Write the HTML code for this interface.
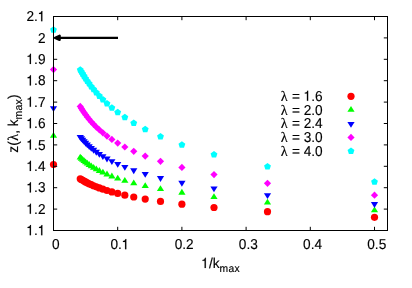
<!DOCTYPE html>
<html><head><meta charset="utf-8"><style>
html,body{margin:0;padding:0;background:#fff;}
svg{display:block;will-change:transform}
text{font-family:"Liberation Sans",sans-serif;font-size:14.3px;fill:#000;text-rendering:geometricPrecision;stroke:#000;stroke-width:0.15px}
.h{fill:none;stroke:none}
text.sy{font-family:"Liberation Serif",serif}
</style></head><body>
<svg width="412" height="288" viewBox="0 0 412 288">
<rect width="412" height="288" fill="#fff"/>
<g><circle cx="53.50" cy="164.59" r="3.6" fill="#ff0000"/><circle cx="374.50" cy="217.36" r="3.6" fill="#ff0000"/><circle cx="267.50" cy="211.66" r="3.6" fill="#ff0000"/><circle cx="214.00" cy="207.49" r="3.6" fill="#ff0000"/><circle cx="181.90" cy="204.19" r="3.6" fill="#ff0000"/><circle cx="160.50" cy="201.43" r="3.6" fill="#ff0000"/><circle cx="145.21" cy="199.07" r="3.6" fill="#ff0000"/><circle cx="133.75" cy="196.99" r="3.6" fill="#ff0000"/><circle cx="124.83" cy="195.13" r="3.6" fill="#ff0000"/><circle cx="117.70" cy="193.45" r="3.6" fill="#ff0000"/><circle cx="111.86" cy="191.91" r="3.6" fill="#ff0000"/><circle cx="107.00" cy="190.50" r="3.6" fill="#ff0000"/><circle cx="102.88" cy="189.18" r="3.6" fill="#ff0000"/><circle cx="99.36" cy="187.96" r="3.6" fill="#ff0000"/><circle cx="96.30" cy="186.81" r="3.6" fill="#ff0000"/><circle cx="93.62" cy="185.73" r="3.6" fill="#ff0000"/><circle cx="91.26" cy="184.70" r="3.6" fill="#ff0000"/><circle cx="89.17" cy="183.73" r="3.6" fill="#ff0000"/><circle cx="87.29" cy="182.80" r="3.6" fill="#ff0000"/><circle cx="85.60" cy="181.92" r="3.6" fill="#ff0000"/><circle cx="84.07" cy="181.08" r="3.6" fill="#ff0000"/><circle cx="82.68" cy="180.27" r="3.6" fill="#ff0000"/><circle cx="81.41" cy="179.49" r="3.6" fill="#ff0000"/><circle cx="80.25" cy="178.74" r="3.6" fill="#ff0000"/></g>
<g><polygon points="53.50,131.88 49.90,137.71 57.10,137.71" fill="#00ff00"/><polygon points="374.50,206.41 370.90,212.25 378.10,212.25" fill="#00ff00"/><polygon points="267.50,198.70 263.90,204.53 271.10,204.53" fill="#00ff00"/><polygon points="214.00,193.20 210.40,199.03 217.60,199.03" fill="#00ff00"/><polygon points="181.90,188.87 178.30,194.70 185.50,194.70" fill="#00ff00"/><polygon points="160.50,185.26 156.90,191.09 164.10,191.09" fill="#00ff00"/><polygon points="145.21,182.14 141.61,187.97 148.81,187.97" fill="#00ff00"/><polygon points="133.75,179.38 130.15,185.21 137.35,185.21" fill="#00ff00"/><polygon points="124.83,176.90 121.23,182.73 128.43,182.73" fill="#00ff00"/><polygon points="117.70,174.63 114.10,180.46 121.30,180.46" fill="#00ff00"/><polygon points="111.86,172.54 108.26,178.38 115.46,178.38" fill="#00ff00"/><polygon points="107.00,170.60 103.40,176.43 110.60,176.43" fill="#00ff00"/><polygon points="102.88,168.79 99.28,174.62 106.48,174.62" fill="#00ff00"/><polygon points="99.36,167.08 95.76,172.91 102.96,172.91" fill="#00ff00"/><polygon points="96.30,165.46 92.70,171.29 99.90,171.29" fill="#00ff00"/><polygon points="93.62,163.93 90.03,169.76 97.22,169.76" fill="#00ff00"/><polygon points="91.26,162.46 87.66,168.29 94.86,168.29" fill="#00ff00"/><polygon points="89.17,161.06 85.57,166.90 92.77,166.90" fill="#00ff00"/><polygon points="87.29,159.72 83.69,165.56 90.89,165.56" fill="#00ff00"/><polygon points="85.60,158.44 82.00,164.27 89.20,164.27" fill="#00ff00"/><polygon points="84.07,157.20 80.47,163.03 87.67,163.03" fill="#00ff00"/><polygon points="82.68,156.00 79.08,161.83 86.28,161.83" fill="#00ff00"/><polygon points="81.41,154.84 77.81,160.67 85.01,160.67" fill="#00ff00"/><polygon points="80.25,153.72 76.65,159.55 83.85,159.55" fill="#00ff00"/></g>
<g><polygon points="53.50,112.12 49.90,106.29 57.10,106.29" fill="#0000ff"/><polygon points="374.50,207.96 370.90,202.12 378.10,202.12" fill="#0000ff"/><polygon points="267.50,199.10 263.90,193.27 271.10,193.27" fill="#0000ff"/><polygon points="214.00,192.28 210.40,186.45 217.60,186.45" fill="#0000ff"/><polygon points="181.90,186.70 178.30,180.87 185.50,180.87" fill="#0000ff"/><polygon points="160.50,181.95 156.90,176.12 164.10,176.12" fill="#0000ff"/><polygon points="145.21,177.81 141.61,171.98 148.81,171.98" fill="#0000ff"/><polygon points="133.75,174.13 130.15,168.30 137.35,168.30" fill="#0000ff"/><polygon points="124.83,170.81 121.23,164.98 128.43,164.98" fill="#0000ff"/><polygon points="117.70,167.79 114.10,161.96 121.30,161.96" fill="#0000ff"/><polygon points="111.86,165.01 108.26,159.18 115.46,159.18" fill="#0000ff"/><polygon points="107.00,162.43 103.40,156.60 110.60,156.60" fill="#0000ff"/><polygon points="102.88,160.04 99.28,154.20 106.48,154.20" fill="#0000ff"/><polygon points="99.36,157.79 95.76,151.96 102.96,151.96" fill="#0000ff"/><polygon points="96.30,155.68 92.70,149.85 99.90,149.85" fill="#0000ff"/><polygon points="93.62,153.68 90.03,147.85 97.22,147.85" fill="#0000ff"/><polygon points="91.26,151.79 87.66,145.96 94.86,145.96" fill="#0000ff"/><polygon points="89.17,149.99 85.57,144.16 92.77,144.16" fill="#0000ff"/><polygon points="87.29,148.28 83.69,142.45 90.89,142.45" fill="#0000ff"/><polygon points="85.60,146.64 82.00,140.81 89.20,140.81" fill="#0000ff"/><polygon points="84.07,145.08 80.47,139.24 87.67,139.24" fill="#0000ff"/><polygon points="82.68,143.57 79.08,137.74 86.28,137.74" fill="#0000ff"/><polygon points="81.41,142.13 77.81,136.29 85.01,136.29" fill="#0000ff"/><polygon points="80.25,140.74 76.65,134.90 83.85,134.90" fill="#0000ff"/></g>
<g><polygon points="53.50,65.97 49.90,69.57 53.50,73.17 57.10,69.57" fill="#ff00ff"/><polygon points="374.50,191.55 370.90,195.15 374.50,198.75 378.10,195.15" fill="#ff00ff"/><polygon points="267.50,179.77 263.90,183.37 267.50,186.97 271.10,183.37" fill="#ff00ff"/><polygon points="214.00,170.96 210.40,174.56 214.00,178.16 217.60,174.56" fill="#ff00ff"/><polygon points="181.90,163.81 178.30,167.41 181.90,171.01 185.50,167.41" fill="#ff00ff"/><polygon points="160.50,157.74 156.90,161.34 160.50,164.94 164.10,161.34" fill="#ff00ff"/><polygon points="145.21,152.43 141.61,156.03 145.21,159.63 148.81,156.03" fill="#ff00ff"/><polygon points="133.75,147.69 130.15,151.29 133.75,154.89 137.35,151.29" fill="#ff00ff"/><polygon points="124.83,143.40 121.23,147.00 124.83,150.60 128.43,147.00" fill="#ff00ff"/><polygon points="117.70,139.46 114.10,143.06 117.70,146.66 121.30,143.06" fill="#ff00ff"/><polygon points="111.86,135.83 108.26,139.43 111.86,143.03 115.46,139.43" fill="#ff00ff"/><polygon points="107.00,132.44 103.40,136.04 107.00,139.64 110.60,136.04" fill="#ff00ff"/><polygon points="102.88,129.26 99.28,132.86 102.88,136.46 106.48,132.86" fill="#ff00ff"/><polygon points="99.36,126.27 95.76,129.87 99.36,133.47 102.96,129.87" fill="#ff00ff"/><polygon points="96.30,123.43 92.70,127.03 96.30,130.63 99.90,127.03" fill="#ff00ff"/><polygon points="93.62,120.74 90.03,124.34 93.62,127.94 97.22,124.34" fill="#ff00ff"/><polygon points="91.26,118.18 87.66,121.78 91.26,125.38 94.86,121.78" fill="#ff00ff"/><polygon points="89.17,115.72 85.57,119.32 89.17,122.92 92.77,119.32" fill="#ff00ff"/><polygon points="87.29,113.37 83.69,116.97 87.29,120.57 90.89,116.97" fill="#ff00ff"/><polygon points="85.60,111.12 82.00,114.72 85.60,118.32 89.20,114.72" fill="#ff00ff"/><polygon points="84.07,108.95 80.47,112.55 84.07,116.15 87.67,112.55" fill="#ff00ff"/><polygon points="82.68,106.85 79.08,110.45 82.68,114.05 86.28,110.45" fill="#ff00ff"/><polygon points="81.41,104.83 77.81,108.43 81.41,112.03 85.01,108.43" fill="#ff00ff"/><polygon points="80.25,102.87 76.65,106.47 80.25,110.07 83.85,106.47" fill="#ff00ff"/></g>
<g><polygon points="53.50,26.17 56.92,28.66 55.62,32.68 51.38,32.68 50.08,28.66" fill="#00ffff"/><polygon points="374.50,178.29 377.92,180.77 376.62,184.80 372.38,184.80 371.08,180.77" fill="#00ffff"/><polygon points="267.50,163.00 270.92,165.49 269.62,169.51 265.38,169.51 264.08,165.49" fill="#00ffff"/><polygon points="214.00,151.04 217.42,153.53 216.12,157.55 211.88,157.55 210.58,153.53" fill="#00ffff"/><polygon points="181.90,141.24 185.32,143.72 184.02,147.75 179.78,147.75 178.48,143.72" fill="#00ffff"/><polygon points="160.50,132.95 163.92,135.44 162.62,139.46 158.38,139.46 157.08,135.44" fill="#00ffff"/><polygon points="145.21,125.78 148.64,128.27 147.33,132.29 143.10,132.29 141.79,128.27" fill="#00ffff"/><polygon points="133.75,119.47 137.17,121.96 135.87,125.98 131.63,125.98 130.33,121.96" fill="#00ffff"/><polygon points="124.83,113.84 128.26,116.33 126.95,120.35 122.72,120.35 121.41,116.33" fill="#00ffff"/><polygon points="117.70,108.76 121.12,111.25 119.82,115.27 115.58,115.27 114.28,111.25" fill="#00ffff"/><polygon points="111.86,104.14 115.29,106.63 113.98,110.66 109.75,110.66 108.44,106.63" fill="#00ffff"/><polygon points="107.00,99.91 110.42,102.40 109.12,106.42 104.88,106.42 103.58,102.40" fill="#00ffff"/><polygon points="102.88,96.01 106.31,98.49 105.00,102.52 100.77,102.52 99.46,98.49" fill="#00ffff"/><polygon points="99.36,92.39 102.78,94.87 101.47,98.90 97.24,98.90 95.93,94.87" fill="#00ffff"/><polygon points="96.30,89.02 99.72,91.50 98.42,95.53 94.18,95.53 92.88,91.50" fill="#00ffff"/><polygon points="93.62,85.86 97.05,88.35 95.74,92.37 91.51,92.37 90.20,88.35" fill="#00ffff"/><polygon points="91.26,82.90 94.69,85.39 93.38,89.41 89.15,89.41 87.84,85.39" fill="#00ffff"/><polygon points="89.17,80.11 92.59,82.60 91.28,86.62 87.05,86.62 85.74,82.60" fill="#00ffff"/><polygon points="87.29,77.48 90.71,79.97 89.41,83.99 85.17,83.99 83.87,79.97" fill="#00ffff"/><polygon points="85.60,74.98 89.02,77.47 87.72,81.50 83.48,81.50 82.18,77.47" fill="#00ffff"/><polygon points="84.07,72.62 87.50,75.10 86.19,79.13 81.96,79.13 80.65,75.10" fill="#00ffff"/><polygon points="82.68,70.36 86.11,72.85 84.80,76.88 80.57,76.88 79.26,72.85" fill="#00ffff"/><polygon points="81.41,68.22 84.84,70.71 83.53,74.73 79.30,74.73 77.99,70.71" fill="#00ffff"/><polygon points="80.25,66.17 83.67,68.66 82.37,72.68 78.13,72.68 76.83,68.66" fill="#00ffff"/></g>
<path d="M53.5 230.50h3.7M387.5 230.50h-3.7M53.5 209.10h3.7M387.5 209.10h-3.7M53.5 187.70h3.7M387.5 187.70h-3.7M53.5 166.30h3.7M387.5 166.30h-3.7M53.5 144.90h3.7M387.5 144.90h-3.7M53.5 123.50h3.7M387.5 123.50h-3.7M53.5 102.10h3.7M387.5 102.10h-3.7M53.5 80.70h3.7M387.5 80.70h-3.7M53.5 59.30h3.7M387.5 59.30h-3.7M53.5 37.90h3.7M387.5 37.90h-3.7M53.5 16.50h3.7M387.5 16.50h-3.7M53.50 230.5v-3.7M53.50 16.5v3.7M117.70 230.5v-3.7M117.70 16.5v3.7M181.90 230.5v-3.7M181.90 16.5v3.7M246.10 230.5v-3.7M246.10 16.5v3.7M310.30 230.5v-3.7M310.30 16.5v3.7M374.50 230.5v-3.7M374.50 16.5v3.7" stroke="#000" stroke-width="1" fill="none"/>
<rect x="53.5" y="16.5" width="334.0" height="214.0" fill="none" stroke="#000" stroke-width="1"/>
<text transform="translate(45.5 235.20) scale(0.955 1)" text-anchor="end"><tspan class="h">1</tspan>.<tspan class="h">1</tspan></text><text transform="translate(45.5 213.80) scale(0.955 1)" text-anchor="end"><tspan class="h">1</tspan>.2</text><text transform="translate(45.5 192.40) scale(0.955 1)" text-anchor="end"><tspan class="h">1</tspan>.3</text><text transform="translate(45.5 171.00) scale(0.955 1)" text-anchor="end"><tspan class="h">1</tspan>.4</text><text transform="translate(45.5 149.60) scale(0.955 1)" text-anchor="end"><tspan class="h">1</tspan>.5</text><text transform="translate(45.5 128.20) scale(0.955 1)" text-anchor="end"><tspan class="h">1</tspan>.6</text><text transform="translate(45.5 106.80) scale(0.955 1)" text-anchor="end"><tspan class="h">1</tspan>.7</text><text transform="translate(45.5 85.40) scale(0.955 1)" text-anchor="end"><tspan class="h">1</tspan>.8</text><text transform="translate(45.5 64.00) scale(0.955 1)" text-anchor="end"><tspan class="h">1</tspan>.9</text><text transform="translate(45.5 42.60) scale(0.955 1)" text-anchor="end">2</text><text transform="translate(45.5 21.20) scale(0.955 1)" text-anchor="end">2.<tspan class="h">1</tspan></text>
<text transform="translate(55.75 249.2) scale(0.955 1)" text-anchor="middle">0</text><text transform="translate(119.95 249.2) scale(0.955 1)" text-anchor="middle">0.<tspan class="h">1</tspan></text><text transform="translate(184.15 249.2) scale(0.955 1)" text-anchor="middle">0.2</text><text transform="translate(248.35 249.2) scale(0.955 1)" text-anchor="middle">0.3</text><text transform="translate(312.55 249.2) scale(0.955 1)" text-anchor="middle">0.4</text><text transform="translate(376.75 249.2) scale(0.955 1)" text-anchor="middle">0.5</text>
<text x="280.8" y="100.80" class="sy">λ</text><text transform="translate(322.7 100.80) scale(0.955 1)" text-anchor="end">= <tspan class="h">1</tspan>.6</text><circle cx="351.00" cy="96.30" r="3.6" fill="#ff0000"/><text x="280.8" y="114.50" class="sy">λ</text><text transform="translate(322.7 114.50) scale(0.955 1)" text-anchor="end">= 2.0</text><polygon points="351.00,105.97 347.40,111.80 354.60,111.80" fill="#00ff00"/><text x="280.8" y="128.20" class="sy">λ</text><text transform="translate(322.7 128.20) scale(0.955 1)" text-anchor="end">= 2.4</text><polygon points="351.00,127.73 347.40,121.90 354.60,121.90" fill="#0000ff"/><text x="280.8" y="141.90" class="sy">λ</text><text transform="translate(322.7 141.90) scale(0.955 1)" text-anchor="end">= 3.0</text><polygon points="351.00,133.80 347.40,137.40 351.00,141.00 354.60,137.40" fill="#ff00ff"/><text x="280.8" y="155.60" class="sy">λ</text><text transform="translate(322.7 155.60) scale(0.955 1)" text-anchor="end">= 4.0</text><polygon points="351.00,147.50 354.42,149.99 353.12,154.01 348.88,154.01 347.58,149.99" fill="#00ffff"/>
<path d="M118 37.9H58" stroke="#000" stroke-width="2.2" fill="none"/>
<polygon points="55.2,37.8 59.6,35.8 59.6,39.8" fill="#000" stroke="#000" stroke-width="2.4" stroke-linejoin="round"/>
<text transform="translate(220.7 268) scale(0.955 1)" text-anchor="middle"><tspan class="h">1</tspan>/k<tspan font-size="10.8px" letter-spacing="0.32" dy="4.4">max</tspan></text>
<text transform="translate(17.8,123.6) rotate(-90) scale(0.955 1)" text-anchor="middle">z(<tspan dx="0.5" font-size="14.8px" font-family="Liberation Serif">λ</tspan><tspan dx="0.1">, k</tspan><tspan font-size="10.8px" letter-spacing="0.32" dy="4.4">max</tspan><tspan dy="-4.4">)</tspan></text>
<path transform="matrix(0.013657 0.000000 0.000000 -0.014300 26.204 235.200)" d="M348 0H258V505H102V568Q180 572 222 600Q270 632 285 709H348Z" stroke="#000" stroke-width="10.5"/><path transform="matrix(0.013657 0.000000 0.000000 -0.014300 37.605 235.200)" d="M348 0H258V505H102V568Q180 572 222 600Q270 632 285 709H348Z" stroke="#000" stroke-width="10.5"/><path transform="matrix(0.013657 0.000000 0.000000 -0.014300 26.204 213.800)" d="M348 0H258V505H102V568Q180 572 222 600Q270 632 285 709H348Z" stroke="#000" stroke-width="10.5"/><path transform="matrix(0.013657 0.000000 0.000000 -0.014300 26.204 192.400)" d="M348 0H258V505H102V568Q180 572 222 600Q270 632 285 709H348Z" stroke="#000" stroke-width="10.5"/><path transform="matrix(0.013657 0.000000 0.000000 -0.014300 26.204 171.000)" d="M348 0H258V505H102V568Q180 572 222 600Q270 632 285 709H348Z" stroke="#000" stroke-width="10.5"/><path transform="matrix(0.013657 0.000000 0.000000 -0.014300 26.204 149.600)" d="M348 0H258V505H102V568Q180 572 222 600Q270 632 285 709H348Z" stroke="#000" stroke-width="10.5"/><path transform="matrix(0.013657 0.000000 0.000000 -0.014300 26.204 128.200)" d="M348 0H258V505H102V568Q180 572 222 600Q270 632 285 709H348Z" stroke="#000" stroke-width="10.5"/><path transform="matrix(0.013657 0.000000 0.000000 -0.014300 26.204 106.800)" d="M348 0H258V505H102V568Q180 572 222 600Q270 632 285 709H348Z" stroke="#000" stroke-width="10.5"/><path transform="matrix(0.013657 0.000000 0.000000 -0.014300 26.204 85.400)" d="M348 0H258V505H102V568Q180 572 222 600Q270 632 285 709H348Z" stroke="#000" stroke-width="10.5"/><path transform="matrix(0.013657 0.000000 0.000000 -0.014300 26.204 64.000)" d="M348 0H258V505H102V568Q180 572 222 600Q270 632 285 709H348Z" stroke="#000" stroke-width="10.5"/><path transform="matrix(0.013657 0.000000 0.000000 -0.014300 37.605 21.200)" d="M348 0H258V505H102V568Q180 572 222 600Q270 632 285 709H348Z" stroke="#000" stroke-width="10.5"/><path transform="matrix(0.013657 0.000000 0.000000 -0.014300 121.553 249.200)" d="M348 0H258V505H102V568Q180 572 222 600Q270 632 285 709H348Z" stroke="#000" stroke-width="10.5"/><path transform="matrix(0.013657 0.000000 0.000000 -0.014300 303.404 100.800)" d="M348 0H258V505H102V568Q180 572 222 600Q270 632 285 709H348Z" stroke="#000" stroke-width="10.5"/><path transform="matrix(0.013657 0.000000 0.000000 -0.014300 201.091 268.000)" d="M348 0H258V505H102V568Q180 572 222 600Q270 632 285 709H348Z" stroke="#000" stroke-width="10.5"/>
</svg>
</body></html>
